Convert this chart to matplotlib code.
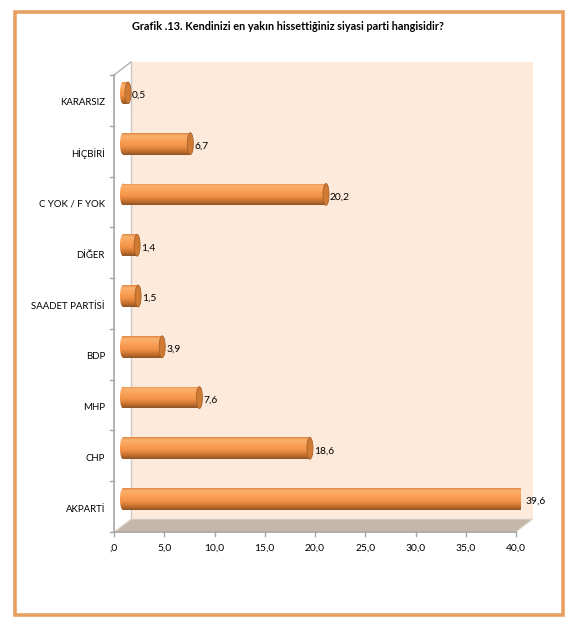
import numpy as np
import matplotlib
matplotlib.use('Agg')
import matplotlib.pyplot as plt
from matplotlib.patches import Ellipse, Rectangle, Polygon
from matplotlib.transforms import ScaledTranslation, IdentityTransform
from matplotlib.colors import LinearSegmentedColormap

categories = ['KARARSIZ', 'HİÇBİRİ', 'C YOK / F YOK', 'DİĞER', 'SAADET PARTİSİ',
              'BDP', 'MHP', 'CHP', 'AKPARTİ']
values = [0.5, 6.7, 20.2, 1.4, 1.5, 3.9, 7.6, 18.6, 39.6]
value_labels = ['0,5', '6,7', '20,2', '1,4', '1,5', '3,9', '7,6', '18,6', '39,6']
xticks = [0, 5, 10, 15, 20, 25, 30, 35, 40]
xtick_labels = [',0', '5,0', '10,0', '15,0', '20,0', '25,0', '30,0', '35,0', '40,0']
title = 'Grafik .13. Kendinizi en yakın hissettiğiniz siyasi parti hangisidir?'

FONT = ['Lato', 'DejaVu Sans']
plt.rcParams['font.family'] = FONT

W, H = 576, 626
fig = plt.figure(figsize=(W / 100, H / 100), dpi=100)
fig.patch.set_facecolor('white')

# orange frame
fig.add_artist(Rectangle((15 / W, 11 / H), 548 / W, 603 / H, transform=fig.transFigure,
                         fill=False, edgecolor='#E8A062', linewidth=2.6))

ax = fig.add_axes([114 / W, 94 / H, 402 / W, 457 / H])
ax.set_xlim(0, 40)
ax.set_ylim(-0.5, len(categories) - 0.5)
ax.axis('off')

n = len(categories)
ypos = [n - 1 - i for i in range(n)]

dts = fig.dpi_scale_trans
back = ax.transData + ScaledTranslation(0.17, 0.13, dts)
mid = ax.transData + ScaledTranslation(0.09, 0.075, dts)

# back wall
ax.add_patch(Rectangle((0, -0.5), 40, n, transform=back, facecolor='#FDEADA',
                       edgecolor='none', zorder=0, clip_on=False))

fig.canvas.draw()
td = ax.transData
fl = td.transform((0, -0.5))
fr = td.transform((40, -0.5))
tl = td.transform((0, n - 0.5))
ox, oy = 17, 13
# left wall
ax.add_patch(Polygon([tl, (tl[0] + ox, tl[1] + oy), (fl[0] + ox, fl[1] + oy), fl],
                     closed=True, transform=IdentityTransform(), facecolor='white',
                     edgecolor='none', zorder=0.5, clip_on=False))
ax.plot([fl[0] + ox, tl[0] + ox], [fl[1] + oy, tl[1] + oy], transform=IdentityTransform(),
        color='#C8C8C8', lw=1, clip_on=False, zorder=0.6)
ax.plot([tl[0], tl[0] + ox], [tl[1], tl[1] + oy], transform=IdentityTransform(),
        color='#B0B0B0', lw=1, clip_on=False, zorder=0.6)
# floor
ax.add_patch(Polygon([fl, fr, (fr[0] + ox, fr[1] + oy), (fl[0] + ox, fl[1] + oy)],
                     closed=True, transform=IdentityTransform(), facecolor='#C4B7AA',
                     edgecolor='#E6DED6', lw=0.8, zorder=0.7, clip_on=False))
# front axes lines
ax.plot([fl[0], tl[0]], [fl[1], tl[1]], transform=IdentityTransform(), color='#A6A6A6',
        lw=1.2, clip_on=False, zorder=0.8)
ax.plot([fl[0], fr[0]], [fl[1], fr[1]], transform=IdentityTransform(), color='#A6A6A6',
        lw=1.2, clip_on=False, zorder=0.8)

# y ticks at category boundaries
for b in np.arange(-0.5, n, 1.0):
    ax.plot([-0.4, 0], [b, b], color='#A6A6A6', lw=1, clip_on=False, zorder=0.8)
# x ticks
for xt, lab in zip(xticks, xtick_labels):
    ax.plot([xt, xt], [-0.5, -0.58], color='#A6A6A6', lw=1, clip_on=False, zorder=0.8)
    ax.text(xt, -0.82, lab, ha='center', va='center', fontsize=7.4, color='black')

for y, c in zip(ypos, categories):
    ax.text(-0.9, y - 0.05, c, ha='right', va='center', fontsize=6.9, color='black')

# cylinder gradient
cmap = LinearSegmentedColormap.from_list('cyl', [
    (0.0, '#E08A45'), (0.12, '#FBB170'), (0.35, '#F9A257'), (0.6, '#F29247'),
    (0.82, '#C8722E'), (1.0, '#8E5526')])
grad = np.linspace(0, 1, 64).reshape(-1, 1)

bh = 0.43
cap_w = 0.6
for y, v, lab in zip(ypos, values, value_labels):
    # left rounded cap
    le = Ellipse((0, y), cap_w, bh, transform=mid, facecolor='none', edgecolor='none')
    ax.add_patch(le)
    im = ax.imshow(grad, cmap=cmap, aspect='auto', extent=(-cap_w / 2, cap_w / 2, y - bh / 2, y + bh / 2),
                   transform=mid, zorder=2, interpolation='bilinear')
    im.set_clip_path(le)
    body = ax.barh(y, v, height=bh, left=0, color='none', transform=mid, zorder=2)[0]
    im2 = ax.imshow(grad, cmap=cmap, aspect='auto', extent=(0, v, y - bh / 2, y + bh / 2),
                    transform=mid, zorder=2.1, interpolation='bilinear')
    im2.set_clip_path(body)
    # right end cap
    ax.add_patch(Ellipse((v, y), cap_w, bh, transform=mid, facecolor='#D07A34',
                         edgecolor='#A8622A', lw=0.6, zorder=2.2))
    ax.text(v + cap_w / 2 + 0.1, y - 0.05, lab, ha='left', va='center', fontsize=7.4,
            color='black', transform=mid, zorder=3)

ax.set_xlim(0, 40)
ax.set_ylim(-0.5, n - 0.5)

fig.text(288 / W, 1 - 27 / H, title, ha='center', va='center', fontsize=7.8,
         fontweight='bold', color='black')

fig.savefig('out.png', dpi=100, facecolor='white')
